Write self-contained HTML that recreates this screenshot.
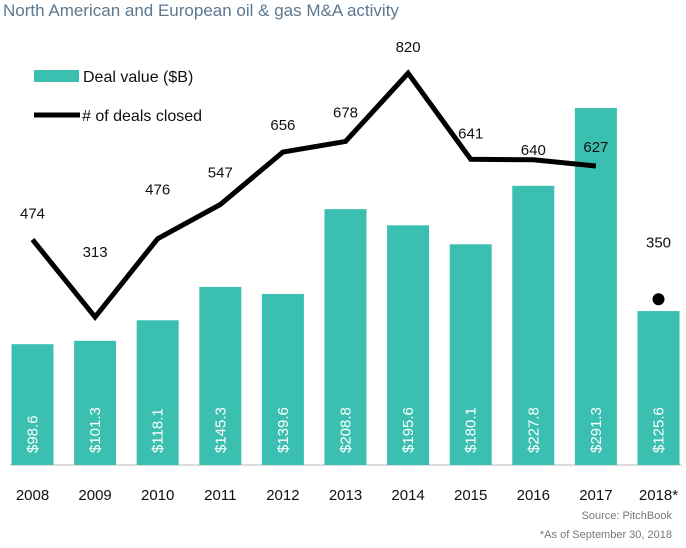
<!DOCTYPE html>
<html><head><meta charset="utf-8"><style>
body{margin:0;background:#fff;width:686px;height:543px;overflow:hidden;font-family:"Liberation Sans",sans-serif}
</style></head><body>
<svg id="chart" width="686" height="543">
<text x="3" y="16" font-size="17" fill="#5b7890">North American and European oil &amp; gas M&amp;A activity</text>
<rect x="34" y="70" width="45" height="12" fill="#3bbfb0"/>
<text x="83" y="82" font-size="16" fill="#111">Deal value ($B)</text>
<line x1="34" y1="115" x2="80" y2="115" stroke="#000" stroke-width="5"/>
<text x="82" y="121" font-size="16" fill="#111"># of deals closed</text>
<line x1="10" y1="465" x2="682" y2="465" stroke="#bbb" stroke-width="1"/>
<g id="bars"></g><g id="line"></g>
<text x="672" y="519" font-size="11" fill="#777" text-anchor="end">Source: PitchBook</text>
<text x="672" y="538" font-size="11" fill="#777" text-anchor="end">*As of September 30, 2018</text>
</svg>
<script>
const years=["2008","2009","2010","2011","2012","2013","2014","2015","2016","2017","2018*"];
const dealValues=[98.6,101.3,118.1,145.3,139.6,208.8,195.6,180.1,227.8,291.3,125.6];
const dealCounts=[474,313,476,547,656,678,820,641,640,627,350];
const countLabelOffsets=[-21,-60,-44,-27,-22,-24,-21,-21,-5,-14,-52];
const NS="http://www.w3.org/2000/svg";
const x=i=>32.5+i*62.6;
const yBar=v=>465-v*1.2255;
const yLine=v=>467.6-v*0.481;
const bars=document.getElementById('bars'),line=document.getElementById('line');
function mk(t,a,p){const e=document.createElementNS(NS,t);for(const k in a)e.setAttribute(k,a[k]);p.appendChild(e);return e;}
years.forEach((yr,i)=>{
 const r=mk('rect',{x:x(i)-21,y:yBar(dealValues[i]),width:42,height:465-yBar(dealValues[i]),fill:'#3bbfb0'},bars);
 
 
 const t=mk('text',{x:0,y:0,'font-size':15,fill:'#fff',transform:`translate(${x(i)+5},453) rotate(-90)`},bars);
 t.textContent='$'+dealValues[i].toFixed(1);
 
 
 const yl=mk('text',{x:x(i),y:500,'font-size':15,fill:'#111','text-anchor':'middle'},bars);
 yl.textContent=yr;
 
 
 const cl=mk('text',{x:x(i),y:yLine(dealCounts[i])+countLabelOffsets[i],'font-size':15,fill:'#111','text-anchor':'middle'},line);
 cl.textContent=dealCounts[i];
 
 
});
const pts=dealCounts.slice(0,10).map((v,i)=>x(i)+','+yLine(v)).join(' ');
const pl=mk('polyline',{points:pts,fill:'none',stroke:'#000','stroke-width':5,'stroke-linejoin':'miter'},line);


const dot=mk('circle',{cx:x(10),cy:yLine(dealCounts[10]),r:6,fill:'#000'},line);


</script>
</body></html>
